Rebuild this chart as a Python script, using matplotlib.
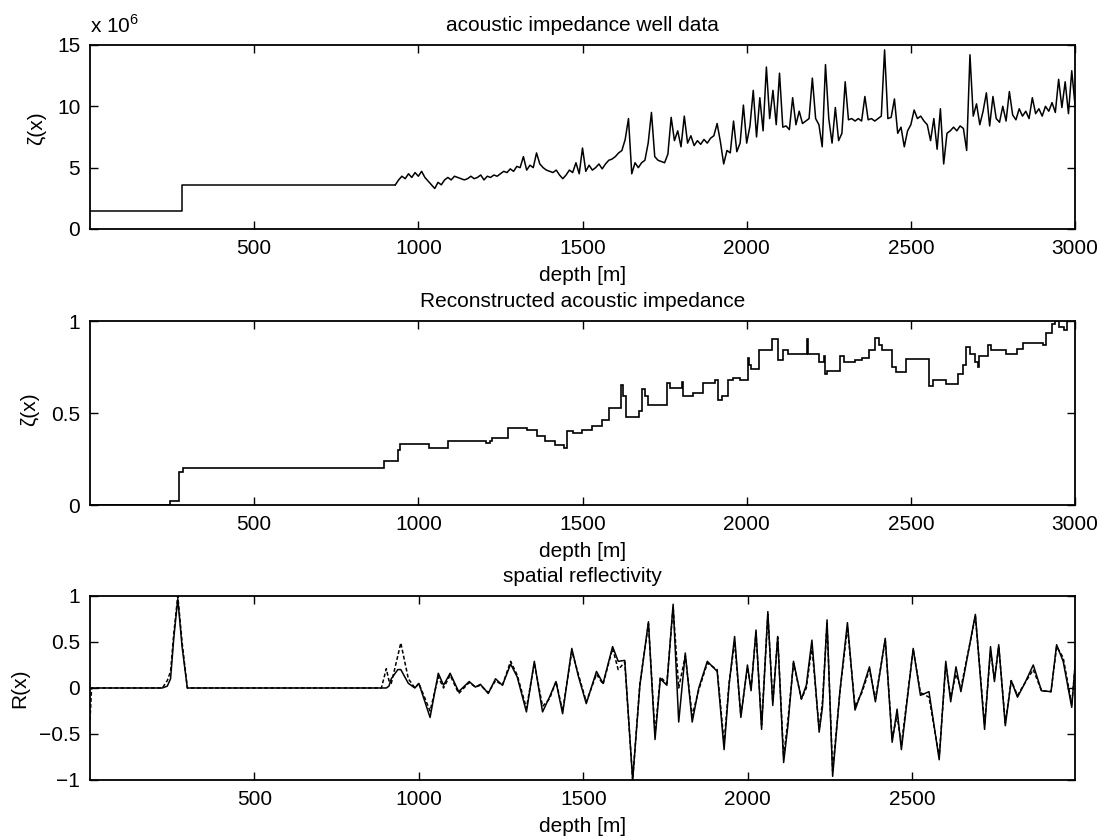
# well log / reconstruction / reflectivity, 3 stacked panels

import numpy as np
import matplotlib
matplotlib.use("Agg")
import matplotlib.pyplot as plt
import matplotlib.ticker as ticker

plt.rcParams["font.family"] = ["Liberation Sans", "DejaVu Sans"]
plt.rcParams["mathtext.fontset"] = "custom"
plt.rcParams["mathtext.rm"] = "Liberation Sans"
plt.rcParams["font.size"] = 15

# acoustic impedance well data, in units of 1e6
head_depth = [1, 280, 280, 930]
head_imp = [1.5, 1.5, 3.6, 3.6]
log_start = 930
log_step = 10
log_imp = [
	3.6, 4.0, 4.3, 4.1, 4.5, 4.2, 4.6, 4.3, 4.7, 4.2,
	3.9, 3.6, 3.3, 3.8, 3.6, 4.0, 4.2, 4.0, 4.3, 4.2,
	4.1, 4.0, 4.1, 4.3, 4.1, 4.2, 4.4, 4.0, 4.3, 4.2,
	4.4, 4.3, 4.5, 4.7, 4.6, 4.9, 4.7, 5.1, 5.0, 5.9,
	4.8, 5.2, 5.0, 6.2, 5.3, 5.0, 4.8, 4.7, 4.6, 4.8,
	4.4, 4.1, 4.4, 4.8, 4.6, 5.4, 4.5, 6.6, 4.7, 5.2,
	4.8, 5.0, 5.3, 4.9, 5.3, 5.6, 5.7, 5.9, 6.2, 6.4,
	7.3, 9.0, 4.5, 5.4, 5.0, 5.4, 5.6, 7.0, 9.5, 5.9,
	5.6, 5.5, 5.4, 6.1, 9.1, 7.2, 8.0, 6.7, 9.2, 7.0,
	7.6, 6.8, 7.2, 6.9, 7.3, 7.0, 7.4, 7.6, 8.6, 7.1,
	5.3, 6.4, 6.2, 8.8, 6.3, 7.0, 10.1, 7.0, 8.4, 11.3,
	7.5, 10.7, 8.0, 13.2, 9.0, 11.3, 8.5, 12.7, 8.3, 8.4,
	8.1, 10.7, 8.5, 9.6, 8.6, 8.8, 9.0, 12.3, 9.0, 8.5,
	6.7, 13.4, 9.0, 7.0, 9.9, 7.2, 7.8, 12.0, 8.9, 9.0,
	8.8, 9.0, 8.8, 10.8, 8.9, 9.0, 8.8, 9.0, 9.2, 14.6,
	9.0, 9.1, 10.6, 7.8, 8.3, 6.7, 8.0, 8.5, 9.7, 9.0,
	9.2, 8.8, 8.5, 7.2, 9.0, 6.5, 9.8, 5.3, 7.8, 8.0,
	8.3, 8.0, 8.4, 8.2, 6.4, 14.2, 9.2, 10.2, 8.5, 9.6,
	11.1, 8.4, 10.8, 9.0, 8.7, 10.0, 8.8, 11.2, 9.3, 8.9,
	9.8, 9.2, 9.6, 9.0, 10.7, 9.4, 9.8, 9.2, 10.0, 9.6,
	10.3, 9.5, 12.2, 9.9, 12.0, 9.4, 12.9, 10.1,
]

# reconstructed impedance: piecewise constant, level starts + last edge
recon_start = [
	0, 245, 272, 282, 896, 937, 945, 1034, 1090, 1205,
	1218, 1225, 1272, 1330, 1361, 1386, 1417, 1443, 1453, 1470,
	1499, 1529, 1560, 1580, 1616, 1624, 1631, 1672, 1682, 1690,
	1698, 1758, 1766, 1803, 1807, 1836, 1866, 1905, 1912, 1925,
	1943, 1958, 1979, 2004, 2008, 2014, 2037, 2076, 2096, 2112,
	2127, 2183, 2188, 2219, 2234, 2238, 2245, 2285, 2296, 2331,
	2352, 2372, 2392, 2402, 2413, 2443, 2454, 2484, 2556, 2566,
	2607, 2643, 2658, 2668, 2680, 2695, 2704, 2709, 2735, 2745,
	2791, 2822, 2842, 2903, 2913, 2929, 2939, 2950, 2965, 2975,
]
recon_end = 3000
recon_val = [
	0.0, 0.02, 0.18, 0.20, 0.238, 0.30, 0.33, 0.31, 0.347, 0.335,
	0.347, 0.365, 0.42, 0.41, 0.374, 0.35, 0.328, 0.31, 0.40, 0.39,
	0.41, 0.43, 0.46, 0.53, 0.655, 0.59, 0.48, 0.51, 0.63, 0.59,
	0.545, 0.665, 0.637, 0.67, 0.59, 0.61, 0.665, 0.68, 0.57, 0.59,
	0.68, 0.69, 0.68, 0.80, 0.76, 0.74, 0.845, 0.90, 0.79, 0.84,
	0.82, 0.90, 0.82, 0.78, 0.81, 0.71, 0.73, 0.81, 0.775, 0.79,
	0.80, 0.84, 0.91, 0.87, 0.84, 0.75, 0.725, 0.795, 0.646, 0.68,
	0.66, 0.71, 0.76, 0.86, 0.82, 0.78, 0.75, 0.81, 0.87, 0.84,
	0.82, 0.85, 0.88, 0.87, 0.935, 0.985, 1.0, 0.97, 0.95, 1.0,
]

# spatial reflectivity, solid and dashed traces
refl_depth = [
	0, 5, 220, 235, 245, 255, 267, 280, 296, 886,
	901, 909, 916, 936, 945, 968, 988, 1000, 1034, 1059,
	1075, 1095, 1121, 1153, 1172, 1187, 1211, 1233, 1254, 1279,
	1299, 1327, 1351, 1376, 1397, 1417, 1437, 1465, 1484, 1509,
	1540, 1560, 1589, 1606, 1626, 1650, 1672, 1698, 1718, 1734,
	1754, 1773, 1790, 1810, 1831, 1851, 1877, 1907, 1928, 1943,
	1960, 1979, 1999, 2010, 2025, 2042, 2061, 2076, 2091, 2109,
	2122, 2139, 2163, 2178, 2195, 2217, 2227, 2241, 2258, 2280,
	2303, 2326, 2347, 2370, 2388, 2418, 2439, 2454, 2467, 2503,
	2525, 2551, 2582, 2602, 2617, 2633, 2648, 2692, 2720, 2738,
	2750, 2763, 2783, 2801, 2820, 2842, 2868, 2893, 2922, 2939,
	2959, 2985, 2998,
]
refl_solid = [
	0.0, 0.0, 0.0, 0.02, 0.1, 0.55, 0.97, 0.45, 0.0, 0.0,
	0.0, 0.02, 0.1, 0.2, 0.2, 0.05, 0.0, 0.05, -0.32, 0.16,
	0.03, 0.16, -0.04, 0.07, 0.01, 0.04, -0.06, 0.10, 0.03, 0.26,
	0.12, -0.26, 0.29, -0.26, -0.10, 0.07, -0.28, 0.43, 0.14, -0.17,
	0.18, 0.05, 0.45, 0.29, 0.30, -1.0, 0.03, 0.72, -0.56, 0.10,
	0.03, 0.91, -0.37, 0.38, -0.37, 0.0, 0.29, 0.18, -0.67, 0.03,
	0.56, -0.32, 0.25, -0.03, 0.63, -0.45, 0.83, -0.19, 0.56, -0.81,
	-0.41, 0.29, -0.12, 0.03, 0.52, -0.48, -0.21, 0.74, -0.96, -0.04,
	0.71, -0.24, -0.03, 0.23, -0.15, 0.54, -0.59, -0.23, -0.67, 0.43,
	-0.08, -0.04, -0.78, 0.29, -0.15, 0.23, -0.04, 0.80, -0.45, 0.45,
	0.07, 0.47, -0.41, 0.08, -0.10, 0.05, 0.25, -0.03, -0.04, 0.47,
	0.29, -0.21, 0.38,
]
refl_dashed = [
	-0.35, 0.0, 0.0, 0.08, 0.18, 0.6, 1.0, 0.5, 0.0, 0.0,
	0.21, 0.08, 0.05, 0.35, 0.49, 0.1, 0.0, 0.05, -0.25, 0.12,
	0.0, 0.14, -0.06, 0.06, 0.01, 0.03, -0.05, 0.08, 0.03, 0.29,
	0.14, -0.22, 0.27, -0.20, -0.12, 0.07, -0.25, 0.40, 0.16, -0.15,
	0.15, 0.04, 0.43, 0.20, 0.28, -1.0, 0.05, 0.70, -0.50, 0.12,
	0.05, 0.88, 0.0, 0.35, -0.30, -0.02, 0.27, 0.20, -0.60, 0.05,
	0.50, -0.30, 0.22, 0.0, 0.60, -0.40, 0.80, -0.15, 0.55, -0.75,
	-0.35, 0.27, -0.12, 0.0, 0.45, -0.45, -0.15, 0.70, -0.90, -0.05,
	0.66, -0.20, -0.05, 0.20, -0.12, 0.52, -0.55, -0.30, -0.62, 0.42,
	-0.05, -0.10, -0.75, 0.25, -0.10, 0.15, 0.0, 0.78, -0.40, 0.40,
	0.10, 0.45, -0.38, 0.08, -0.08, 0.05, 0.20, -0.03, -0.04, 0.45,
	0.33, -0.18, 0.35,
]


def style(ax):
	ax.tick_params(direction="in", length=6, width=1, top=True, right=True,
		pad=7, labelsize=15)
	for s in ax.spines.values():
		s.set_linewidth(1.3)


fig = plt.figure(figsize=(11, 8.36), dpi=100)
left, width = 0.0818, 0.8955

# top panel
ax1 = fig.add_axes([left, 0.7261, width, 0.2201])
log_depth = np.arange(len(log_imp)) * log_step + log_start
ax1.plot(head_depth, head_imp, color="k", lw=1.1)
ax1.plot(log_depth, log_imp, color="k", lw=1.1)
ax1.set_xlim(0, 3000)
ax1.set_ylim(0, 15)
ax1.set_xticks([500, 1000, 1500, 2000, 2500, 3000])
ax1.set_yticks([0, 5, 10, 15])
ax1.set_title("acoustic impedance well data", fontsize=15, pad=10)
ax1.text(0.0, 1.045, r"x 10$^{6}$", transform=ax1.transAxes, fontsize=15,
	ha="left", va="bottom")
ax1.set_xlabel("depth [m]", fontsize=15)
ax1.set_ylabel("ζ(x)", fontsize=15)
ax1.xaxis.set_label_coords(0.5, -0.2)
ax1.yaxis.set_label_coords(-0.045, 0.55)
style(ax1)

# middle panel
ax2 = fig.add_axes([left, 0.3959, width, 0.2201])
ax2.stairs(recon_val, recon_start + [recon_end], baseline=None, color="k", lw=1.2)
ax2.set_xlim(0, 3000)
ax2.set_ylim(0, 1)
ax2.set_xticks([500, 1000, 1500, 2000, 2500, 3000])
ax2.set_yticks([0, 0.5, 1])
ax2.yaxis.set_major_formatter(ticker.FuncFormatter(lambda v, p: "%g" % v))
ax2.set_title("Reconstructed acoustic impedance", fontsize=15, pad=10)
ax2.set_xlabel("depth [m]", fontsize=15)
ax2.set_ylabel("ζ(x)", fontsize=15)
ax2.xaxis.set_label_coords(0.5, -0.2)
ax2.yaxis.set_label_coords(-0.052, 0.52)
style(ax2)

# bottom panel
ax3 = fig.add_axes([left, 0.0670, width, 0.2201])
ax3.plot(refl_depth, refl_solid, color="k", lw=1.1)
ax3.plot(refl_depth, refl_dashed, color="k", lw=1.1, linestyle=(0, (2.5, 1.5)))
ax3.set_xlim(0, 2995)
ax3.set_ylim(-1, 1)
ax3.set_xticks([500, 1000, 1500, 2000, 2500])
ax3.set_yticks([-1, -0.5, 0, 0.5, 1])
ax3.yaxis.set_major_formatter(ticker.FuncFormatter(lambda v, p: ("%g" % v).replace("-", "\u2212")))
ax3.set_title("spatial reflectivity", fontsize=15, pad=10)
ax3.set_xlabel("depth [m]", fontsize=15)
ax3.set_ylabel("R(x)", fontsize=15)
ax3.xaxis.set_label_coords(0.5, -0.2)
ax3.yaxis.set_label_coords(-0.062, 0.5)
style(ax3)

fig.savefig("out.png", dpi=100)
